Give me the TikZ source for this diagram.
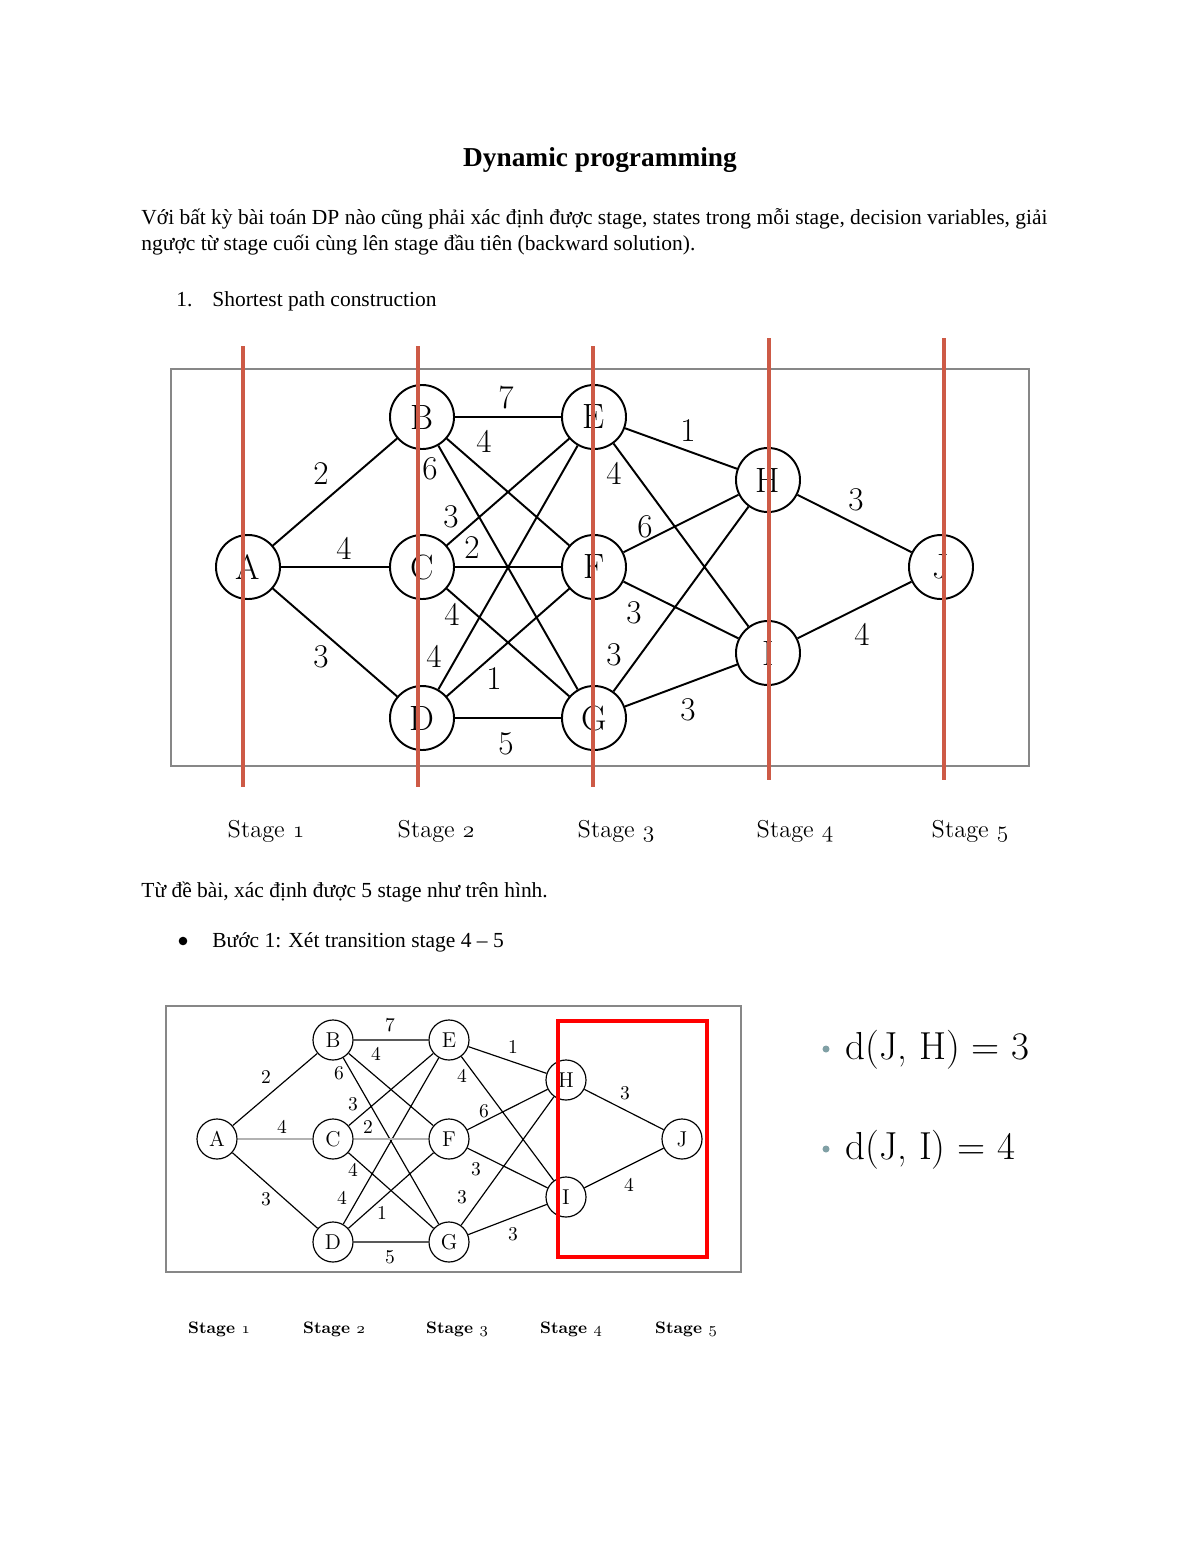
\documentclass[tikz,border=0pt]{standalone}
\usepackage{fontspec}
\newfontfamily\docfont{Liberation Serif}
\usepackage{xcolor}
\usepackage{tikz}

\definecolor{stagered}{RGB}{205,90,70}
\definecolor{framegray}{RGB}{135,135,135}
\definecolor{dotteal}{RGB}{128,160,165}

\begin{document}
\begin{tikzpicture}[x=0.018cm, y=-0.018cm,
  vertex/.style={circle, draw, line width=1pt, minimum size=32.8pt, inner sep=0pt, font=\fontsize{18}{18}\selectfont},
  svertex/.style={circle, draw, line width=0.6pt, minimum size=20.5pt, inner sep=0pt, font=\fontsize{11}{11}\selectfont},
  wt/.style={inner sep=0pt, font=\fontsize{17}{17}\selectfont},
  swt/.style={inner sep=0pt, font=\fontsize{10}{10}\selectfont},
  stageline/.style={stagered, line width=1.6pt},
  body/.style={anchor=base west, inner sep=0pt, font=\docfont\fontsize{11}{13}\selectfont}]
\useasboundingbox (0,0) rectangle (1200,1553);

% text
\node[anchor=base, inner sep=0pt, font=\docfont\bfseries\fontsize{14}{16}\selectfont] (title) at (600,166) {Dynamic programming};
\node[body] (intro1) at (141,224) {Với bất kỳ bài toán DP nào cũng phải xác định được stage, states trong mỗi stage, decision variables, giải};
\node[body] (intro2) at (141,250) {ngược từ stage cuối cùng lên stage đầu tiên (backward solution).};
\node[body] (num1) at (176,306) {1.};
\node[body] (item1) at (212,306) {Shortest path construction};

% first graph
\draw[framegray, line width=0.8pt] (171,369) rectangle (1029,766);
\node[vertex] (A) at (248,567) {A};
\node[vertex] (B) at (422,417) {B};
\node[vertex] (C) at (422,567) {C};
\node[vertex] (D) at (422,718) {D};
\node[vertex] (E) at (594,417) {E};
\node[vertex] (F) at (594,567) {F};
\node[vertex] (G) at (594,718) {G};
\node[vertex] (H) at (768,480) {H};
\node[vertex] (I) at (768,653) {I};
\node[vertex] (J) at (941,567) {J};
\draw[line width=1pt] (A) -- (B) (A) -- (C) (A) -- (D)
  (B) -- (E) (B) -- (F) (B) -- (G)
  (C) -- (E) (C) -- (F) (C) -- (G)
  (D) -- (E) (D) -- (F) (D) -- (G)
  (E) -- (H) (E) -- (I) (F) -- (H) (F) -- (I) (G) -- (H) (G) -- (I)
  (H) -- (J) (I) -- (J);
\node[wt] (wAB) at (321,474) {2};
\node[wt] (wAC) at (344,548) {4};
\node[wt] (wAD) at (321,657) {3};
\node[wt] (wBE) at (506,398) {7};
\node[wt] (wBF) at (484,441) {4};
\node[wt] (wBG) at (430,469) {6};
\node[wt] (wCE) at (451,517) {3};
\node[wt] (wCF) at (472,548) {2};
\node[wt] (wCG) at (452,614) {4};
\node[wt] (wDE) at (434,656) {4};
\node[wt] (wDF) at (494,679) {1};
\node[wt] (wDG) at (506,744) {5};
\node[wt] (wEH) at (688,431) {1};
\node[wt] (wEI) at (614,473) {4};
\node[wt] (wFH) at (645,527) {6};
\node[wt] (wFI) at (634,613) {3};
\node[wt] (wGH) at (614,655) {3};
\node[wt] (wGI) at (688,710) {3};
\node[wt] (wHJ) at (856,500) {3};
\node[wt] (wIJ) at (862,634) {4};

% stage cuts
\draw[stageline] (243,346) -- (243,787);
\draw[stageline] (418,346) -- (418,787);
\draw[stageline] (593,346) -- (593,787);
\draw[stageline] (769,338) -- (769,780);
\draw[stageline] (944,338) -- (944,780);

\node[font=\fontsize{12.5}{14}\selectfont] (st1) at (266,831) {Stage $\mathnormal{1}$};
\node[font=\fontsize{12.5}{14}\selectfont] (st2) at (436,831) {Stage $\mathnormal{2}$};
\node[font=\fontsize{12.5}{14}\selectfont] (st3) at (616,831) {Stage $\mathnormal{3}$};
\node[font=\fontsize{12.5}{14}\selectfont] (st4) at (795,831) {Stage $\mathnormal{4}$};
\node[font=\fontsize{12.5}{14}\selectfont] (st5) at (970,831) {Stage $\mathnormal{5}$};

\node[body] (found) at (141,897) {Từ đề bài, xác định được 5 stage như trên hình.};
\fill (183,941) circle (2.2pt);
\node[body] (step1) at (212,947) {Bước 1: Xét transition stage 4 – 5};

% second graph
\draw[framegray, line width=0.8pt] (166,1006) rectangle (741,1272);
\node[svertex] (A2) at (217,1139) {A};
\node[svertex] (B2) at (333,1040) {B};
\node[svertex] (C2) at (333,1139) {C};
\node[svertex] (D2) at (333,1242) {D};
\node[svertex] (E2) at (449,1040) {E};
\node[svertex] (F2) at (449,1139) {F};
\node[svertex] (G2) at (449,1242) {G};
\node[svertex] (H2) at (566,1080) {H};
\node[svertex] (I2) at (566,1197) {I};
\node[svertex] (J2) at (682,1139) {J};
\draw[line width=0.6pt] (A2) -- (B2) (A2) -- (D2)
  (B2) -- (E2) (B2) -- (F2) (B2) -- (G2)
  (C2) -- (E2) (C2) -- (G2)
  (D2) -- (E2) (D2) -- (F2) (D2) -- (G2)
  (E2) -- (H2) (E2) -- (I2) (F2) -- (H2) (F2) -- (I2) (G2) -- (H2) (G2) -- (I2)
  (H2) -- (J2) (I2) -- (J2);
\draw[gray!60, line width=0.8pt] (A2) -- (C2) (C2) -- (F2);
\node[swt] (sAB) at (266,1077) {2};
\node[swt] (sAC) at (282,1127) {4};
\node[swt] (sAD) at (266,1199) {3};
\node[swt] (sBE) at (390,1025) {7};
\node[swt] (sBF) at (376,1054) {4};
\node[swt] (sBG) at (339,1073) {6};
\node[swt] (sCE) at (353,1104) {3};
\node[swt] (sCF) at (368,1127) {2};
\node[swt] (sCG) at (353,1170) {4};
\node[swt] (sDE) at (342,1198) {4};
\node[swt] (sDF) at (382,1213) {1};
\node[swt] (sDG) at (390,1257) {5};
\node[swt] (sEH) at (513,1047) {1};
\node[swt] (sEI) at (462,1076) {4};
\node[swt] (sFH) at (484,1111) {6};
\node[swt] (sFI) at (476,1169) {3};
\node[swt] (sGH) at (462,1197) {3};
\node[swt] (sGI) at (513,1234) {3};
\node[swt] (sHJ) at (625,1093) {3};
\node[swt] (sIJ) at (629,1185) {4};
\draw[red, line width=2.2pt] (558,1021) rectangle (707,1257);

\node[font=\bfseries\fontsize{8.5}{10}\selectfont] (ss1) at (219,1329) {Stage $\mathnormal{1}$};
\node[font=\bfseries\fontsize{8.5}{10}\selectfont] (ss2) at (334,1329) {Stage $\mathnormal{2}$};
\node[font=\bfseries\fontsize{8.5}{10}\selectfont] (ss3) at (457,1329) {Stage $\mathnormal{3}$};
\node[font=\bfseries\fontsize{8.5}{10}\selectfont] (ss4) at (571,1329) {Stage $\mathnormal{4}$};
\node[font=\bfseries\fontsize{8.5}{10}\selectfont] (ss5) at (686,1329) {Stage $\mathnormal{5}$};

% distances
\fill[dotteal] (826,1049) circle (1.8pt);
\fill[dotteal] (826,1149) circle (1.8pt);
\node[anchor=west, inner sep=0pt, font=\fontsize{20}{22}\selectfont] (dJH) at (845,1050) {d(J, H) = 3};
\node[anchor=west, inner sep=0pt, font=\fontsize{20}{22}\selectfont] (dJI) at (845,1150) {d(J, I) = 4};
\end{tikzpicture}
\end{document}
